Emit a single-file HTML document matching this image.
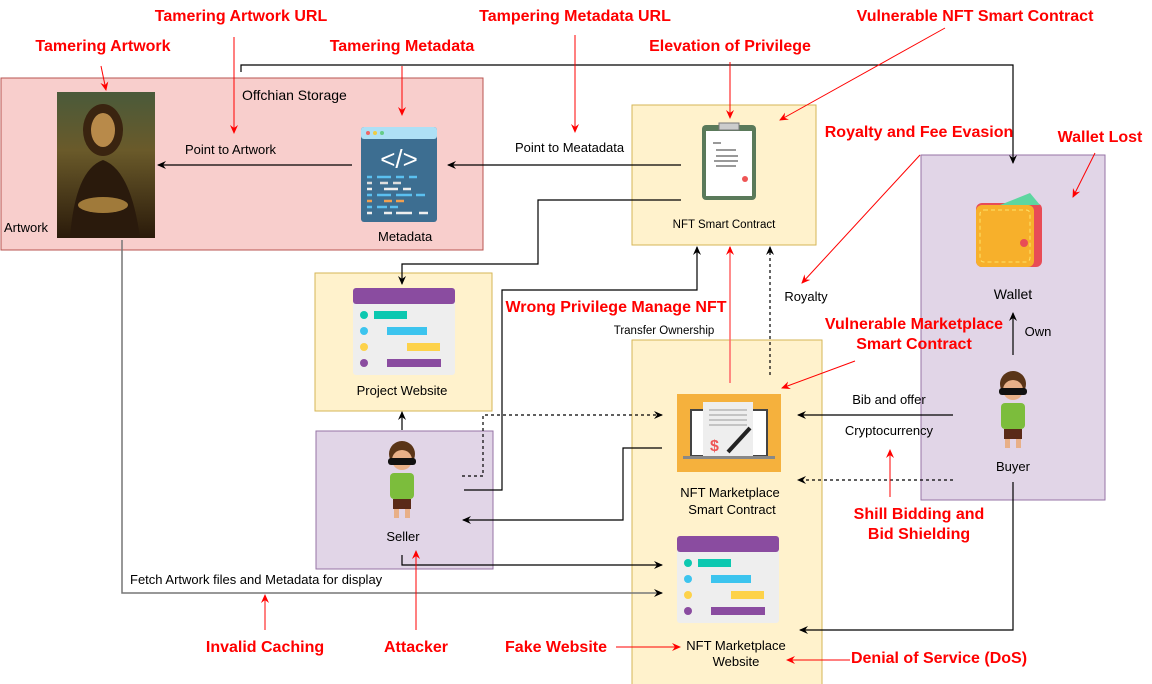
<!DOCTYPE html>
<html><head><meta charset="utf-8"><style>
body{margin:0;background:#fff}
svg{display:block}
text{font-family:"Liberation Sans",sans-serif}
.r{fill:#f00;font-weight:bold;font-size:16px;text-anchor:middle}
.n{font-size:13px;fill:#000}
.s{font-size:11.5px;fill:#000}
</style></head><body>
<svg width="1152" height="684" viewBox="0 0 1152 684" xmlns="http://www.w3.org/2000/svg">
<defs>
<marker id="a" markerWidth="10" markerHeight="10" refX="8" refY="5" orient="auto" markerUnits="userSpaceOnUse"><path d="M0,1 L9,5 L0,9 L3,5z" fill="#000"/></marker>
<marker id="ar" markerWidth="10" markerHeight="10" refX="8" refY="5" orient="auto" markerUnits="userSpaceOnUse"><path d="M0,1 L9,5 L0,9 L3,5z" fill="#f00"/></marker>
<linearGradient id="ml" x1="0" y1="0" x2="0" y2="1"><stop offset="0" stop-color="#4a5a3a"/><stop offset=".4" stop-color="#6a5a2a"/><stop offset="1" stop-color="#2a1a0a"/></linearGradient>
</defs>
<rect x="1" y="78" width="482" height="172" fill="#f8cecc" stroke="#b85450"/>
<rect x="632" y="105" width="184" height="140" fill="#fff2cc" stroke="#d6b656"/>
<rect x="315" y="273" width="177" height="138" fill="#fff2cc" stroke="#d6b656"/>
<rect x="316" y="431" width="177" height="138" fill="#e1d5e7" stroke="#9673a6"/>
<rect x="632" y="340" width="190" height="345" fill="#fff2cc" stroke="#d6b656"/>
<rect x="921" y="155" width="184" height="345" fill="#e1d5e7" stroke="#9673a6"/>
<rect x="57" y="92" width="98" height="146" fill="url(#ml)"/>
<ellipse cx="103" cy="130" rx="20" ry="26" fill="#3a2410"/>
<ellipse cx="103" cy="130" rx="12" ry="17" fill="#b88a4a"/>
<path d="M70,238 Q75,170 103,160 Q131,170 140,238z" fill="#2a1a0c"/>
<ellipse cx="103" cy="205" rx="25" ry="8" fill="#a07a3a"/>
<rect x="361" y="127" width="76" height="95" rx="3" fill="#3d6e91"/>
<rect x="361" y="127" width="76" height="12" rx="3" fill="#aee0f5"/>
<circle cx="368" cy="133" r="2" fill="#e66"/><circle cx="375" cy="133" r="2" fill="#ec4"/><circle cx="382" cy="133" r="2" fill="#6c8"/>
<text x="399" y="168" font-size="26" fill="#fff" text-anchor="middle" font-family="Liberation Sans">&lt;/&gt;</text>
<g stroke-width="2.5"><path d="M367,177h5M377,177h14M396,177h8M409,177h8" stroke="#5bc0f0"/><path d="M367,183h5M380,183h8M393,183h8" stroke="#ddd"/><path d="M367,189h5M384,189h14M403,189h8" stroke="#eee"/><path d="M367,195h5M377,195h14M396,195h16M416,195h9" stroke="#5bc0f0"/><path d="M367,201h5M384,201h8M396,201h8" stroke="#f0a050"/><path d="M367,207h5M377,207h10M390,207h8" stroke="#5bc0f0"/><path d="M367,213h5M384,213h8M396,213h16M419,213h9" stroke="#eee"/></g>
<rect x="702" y="125" width="54" height="75" rx="4" fill="#5a7a5a"/>
<rect x="706" y="131" width="46" height="65" fill="#fff"/>
<rect x="719" y="123" width="20" height="7" fill="#ccc" stroke="#777"/>
<path d="M713,143h8M716,150h20M716,156h22M714,161h24M716,166h20" stroke="#333" stroke-width="1"/>
<circle cx="745" cy="179" r="3" fill="#e55"/>
<g id="web">
<rect x="353" y="288" width="102" height="87" rx="3" fill="#eee"/>
<rect x="353" y="288" width="102" height="16" rx="3" fill="#8a4ca0"/>
<circle cx="364" cy="315" r="4" fill="#0cc8b0"/><rect x="374" y="311" width="33" height="8" fill="#0cc8b0"/>
<circle cx="364" cy="331" r="4" fill="#3cc4ee"/><rect x="387" y="327" width="40" height="8" fill="#3cc4ee"/>
<circle cx="364" cy="347" r="4" fill="#fdd24a"/><rect x="407" y="343" width="33" height="8" fill="#fdd24a"/>
<circle cx="364" cy="363" r="4" fill="#8a4ca0"/><rect x="387" y="359" width="54" height="8" fill="#8a4ca0"/>
</g>
<use href="#web" x="324" y="248"/>
<rect x="677" y="394" width="104" height="78" fill="#f5b13d"/>
<rect x="691" y="410" width="76" height="46" fill="#fff" stroke="#444" stroke-width="2"/>
<rect x="703" y="402" width="50" height="54" fill="#eee"/>
<path d="M709,410h38M709,415h38M709,420h38M709,425h38" stroke="#999"/>
<text x="710" y="451" font-size="16" fill="#e55" font-weight="bold">$</text>
<path d="M728,452 L750,428" stroke="#222" stroke-width="4"/>
<rect x="683" y="456" width="92" height="3" fill="#888"/>
<rect x="976" y="203" width="66" height="64" rx="6" fill="#e84c56"/>
<path d="M1000,205 L1030,193 L1040,205z" fill="#5dd6a0"/>
<rect x="976" y="205" width="58" height="62" rx="6" fill="#f7b02b"/>
<rect x="980" y="210" width="50" height="52" rx="4" fill="none" stroke="#fde36a" stroke-dasharray="4 3"/>
<circle cx="1024" cy="243" r="4" fill="#e84c56"/>
<g id="p">
<ellipse cx="402" cy="454" rx="13" ry="13" fill="#5a3518"/>
<ellipse cx="402" cy="460" rx="10" ry="10" fill="#e8b088"/>
<rect x="388" y="458" width="28" height="7" rx="3" fill="#111"/>
<rect x="390" y="473" width="24" height="26" rx="4" fill="#7cbd3c"/>
<rect x="393" y="499" width="18" height="10" fill="#5a2a18"/>
<rect x="394" y="509" width="5" height="9" fill="#e8b088"/><rect x="405" y="509" width="5" height="9" fill="#e8b088"/>
</g>
<use href="#p" x="611" y="-70"/>
<g fill="none" stroke="#000" stroke-width="1.2">
<path d="M241,72 V65 H1013 V163" marker-end="url(#a)"/>
<path d="M352,165 H158" marker-end="url(#a)"/>
<path d="M681,165 H448" marker-end="url(#a)"/>
<path d="M681,200 H538 V264 H402 V284" marker-end="url(#a)"/>
<path d="M402,430 V412" marker-end="url(#a)"/>
<path d="M462,476 H483 V415 H662" stroke-dasharray="3 3" marker-end="url(#a)"/>
<path d="M464,490 H502 V290 H697 V247" marker-end="url(#a)"/>
<path d="M662,448 H623 V520 H463" marker-end="url(#a)"/>
<path d="M402,555 V565 H662" marker-end="url(#a)"/>
<path d="M122,240 V593 H662" stroke="#777" stroke-width="1.5" marker-end="url(#a)"/>
<path d="M770,375 V247" stroke-dasharray="3 3" marker-end="url(#a)"/>
<path d="M1013,355 V313" marker-end="url(#a)"/>
<path d="M953,415 H798" marker-end="url(#a)"/>
<path d="M953,480 H798" stroke-dasharray="3 3" marker-end="url(#a)"/>
<path d="M1013,482 V630 H800" marker-end="url(#a)"/>
</g>
<g fill="none" stroke="#f00" stroke-width="1" marker-end="url(#ar)">
<path d="M234,37 V133"/><path d="M101,66 L106,90"/><path d="M402,66 V115"/><path d="M575,35 V132"/><path d="M730,62 V118"/>
<path d="M945,28 L780,120"/><path d="M920,155 L802,283"/><path d="M1095,153 L1073,197"/><path d="M855,361 L782,388"/>
<path d="M890,497 V450"/><path d="M265,630 V595"/><path d="M416,630 V551"/><path d="M616,647 H680"/><path d="M850,660 H787"/>
<path d="M730,383 V247" stroke="#f66" stroke-width="1.5"/>
</g>
<text x="242" y="100" font-size="14">Offchian Storage</text>
<text x="185" y="154" class="n">Point to Artwork</text>
<text x="4" y="232" class="n">Artwork</text>
<text x="378" y="241" class="n">Metadata</text>
<text x="515" y="152" class="n">Point to Meatadata</text>
<text x="724" y="228" class="s" text-anchor="middle">NFT Smart Contract</text>
<text x="402" y="395" class="n" text-anchor="middle">Project Website</text>
<text x="403" y="541" class="n" text-anchor="middle">Seller</text>
<text x="130" y="584" class="n">Fetch Artwork files and Metadata for display</text>
<text x="664" y="334" class="s" text-anchor="middle">Transfer Ownership</text>
<text x="806" y="301" class="n" text-anchor="middle">Royalty</text>
<text x="730" y="497" class="n" text-anchor="middle">NFT Marketplace</text>
<text x="732" y="514" class="n" text-anchor="middle">Smart Contract</text>
<text x="736" y="650" class="n" text-anchor="middle">NFT Marketplace</text>
<text x="736" y="666" class="n" text-anchor="middle">Website</text>
<text x="1013" y="299" font-size="14" text-anchor="middle">Wallet</text>
<text x="1038" y="336" class="n" text-anchor="middle">Own</text>
<text x="1013" y="471" class="n" text-anchor="middle">Buyer</text>
<text x="889" y="404" class="n" text-anchor="middle">Bib and offer</text>
<text x="889" y="435" class="n" text-anchor="middle">Cryptocurrency</text>
<text x="241" y="21" class="r">Tamering Artwork URL</text>
<text x="575" y="21" class="r">Tampering Metadata URL</text>
<text x="975" y="21" class="r">Vulnerable NFT Smart Contract</text>
<text x="103" y="51" class="r">Tamering Artwork</text>
<text x="402" y="51" class="r">Tamering Metadata</text>
<text x="730" y="51" class="r">Elevation of Privilege</text>
<text x="919" y="137" class="r">Royalty and Fee Evasion</text>
<text x="1100" y="142" class="r">Wallet Lost</text>
<text x="616" y="312" class="r">Wrong Privilege Manage NFT</text>
<text x="914" y="329" class="r">Vulnerable Marketplace</text>
<text x="914" y="349" class="r">Smart Contract</text>
<text x="919" y="519" class="r">Shill Bidding and</text>
<text x="919" y="539" class="r">Bid Shielding</text>
<text x="265" y="652" class="r">Invalid Caching</text>
<text x="416" y="652" class="r">Attacker</text>
<text x="556" y="652" class="r">Fake Website</text>
<text x="939" y="663" class="r">Denial of Service (DoS)</text>
</svg>
</body></html>
